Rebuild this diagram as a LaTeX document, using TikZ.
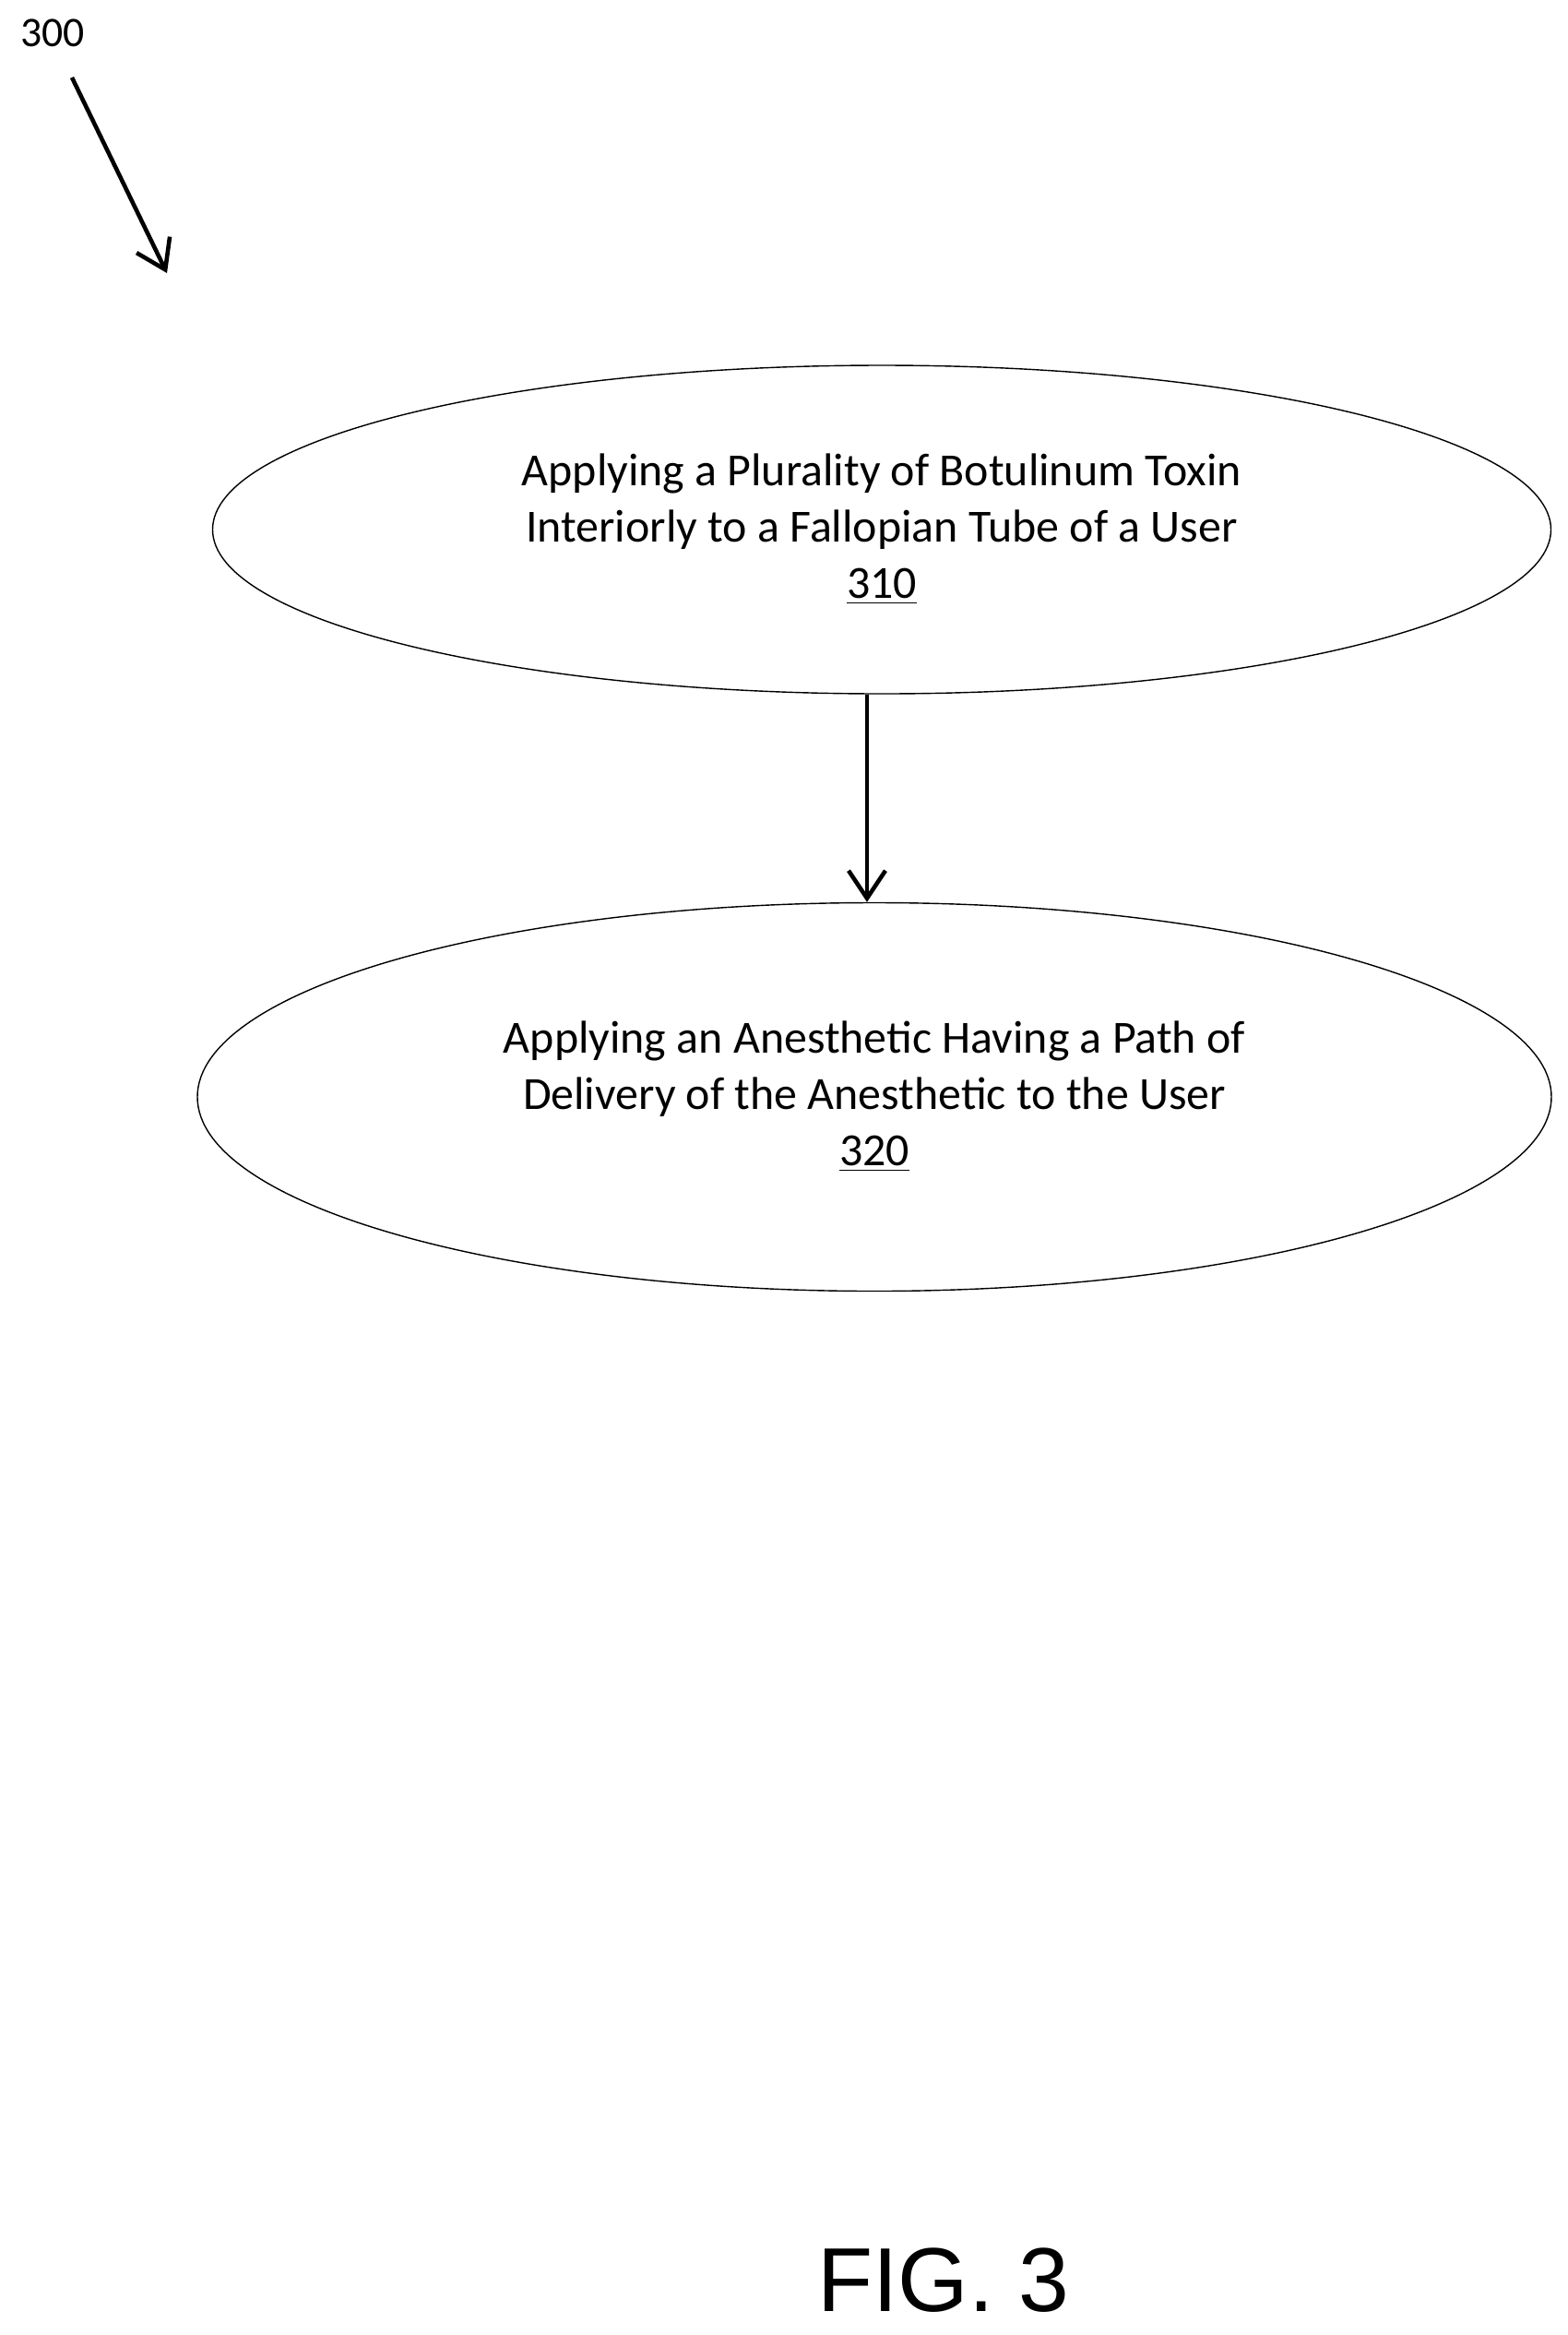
\documentclass[tikz,border=0pt]{standalone}
\usepackage{fontspec}
\setmainfont{Carlito}
\newfontfamily\figfont{Liberation Sans}
\usetikzlibrary{shapes.geometric, arrows.meta, positioning}
\tikzset{
    stepoval/.style={
        ellipse, draw=black, thin, inner sep=0pt,
        align=center, font=\fontsize{14.2}{17.3}\selectfont
    },
    flow/.style={draw=black, line width=1.3pt, -{Straight Barb[length=3mm, width=4mm]}}
}
\begin{document}
\begin{tikzpicture}
\useasboundingbox (0,0) rectangle (16.99,-25.31);

% reference label
\node[font=\fontsize{13}{16}\selectfont] (lbl) at (0.57,-0.36) {300};
\coordinate (lblstart) at (0.78,-0.84);
\coordinate (lblend) at (1.81,-2.96);
\draw[flow] (lblstart) -- (lblend);

% steps
\node[stepoval, minimum width=14.51cm, minimum height=3.56cm] (s310) at (9.56,-5.74)
    {Applying a Plurality of Botulinum Toxin\\Interiorly to a Fallopian Tube of a User\\\underline{310}};
\node[stepoval, minimum width=14.68cm, minimum height=4.21cm] (s320) at (9.48,-11.89)
    {Applying an Anesthetic Having a Path of\\Delivery of the Anesthetic to the User\\\underline{320}};

\draw[flow] (s310.south -| 9.40,0) -- (s320.north -| 9.40,0);

\node[font=\figfont\fontsize{28}{32}\selectfont] (fig) at (10.23,-24.72) {FIG. 3};
\end{tikzpicture}
\end{document}
